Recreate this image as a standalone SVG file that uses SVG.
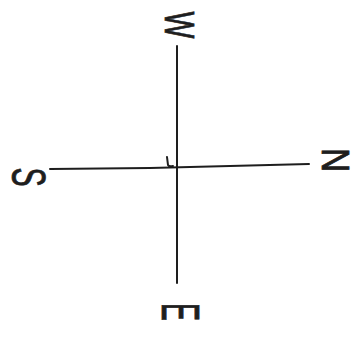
<svg xmlns="http://www.w3.org/2000/svg" width="358" height="338" viewBox="0 0 358 338">
<style>
.ax{stroke:#1e1e1e;stroke-width:2;fill:none;stroke-linecap:round}
.lbl{font-family:"Liberation Sans",Arial,sans-serif;fill:#1e1e1e;stroke:#1e1e1e;stroke-width:0.8;text-anchor:middle}
</style>
<rect width="358" height="338" fill="#ffffff"/>
<g id="connectors">
<path class="ax" d="M177 46 L177 283"/>
<path class="ax" d="M50 169 L150 168 L230 166 L309 164"/>
<path class="ax" stroke-width="1.5" d="M167 157 L168 165 Q169 167 173 166"/>
</g>
<g id="node-W"><text class="lbl" font-size="42" y="15" transform="translate(180 25) rotate(90) scale(0.68 1)">W</text></g>
<g id="node-N"><text class="lbl" font-size="39" y="14" transform="translate(336 160) rotate(90) scale(0.86 1)">N</text></g>
<g id="node-E"><text class="lbl" font-size="53" y="19" transform="translate(181 312) rotate(90) scale(0.51 1)">E</text></g>
<g id="node-S"><text class="lbl" font-size="48" y="17.2" transform="translate(29 177) rotate(90) scale(0.6 1)">S</text></g>
</svg>
